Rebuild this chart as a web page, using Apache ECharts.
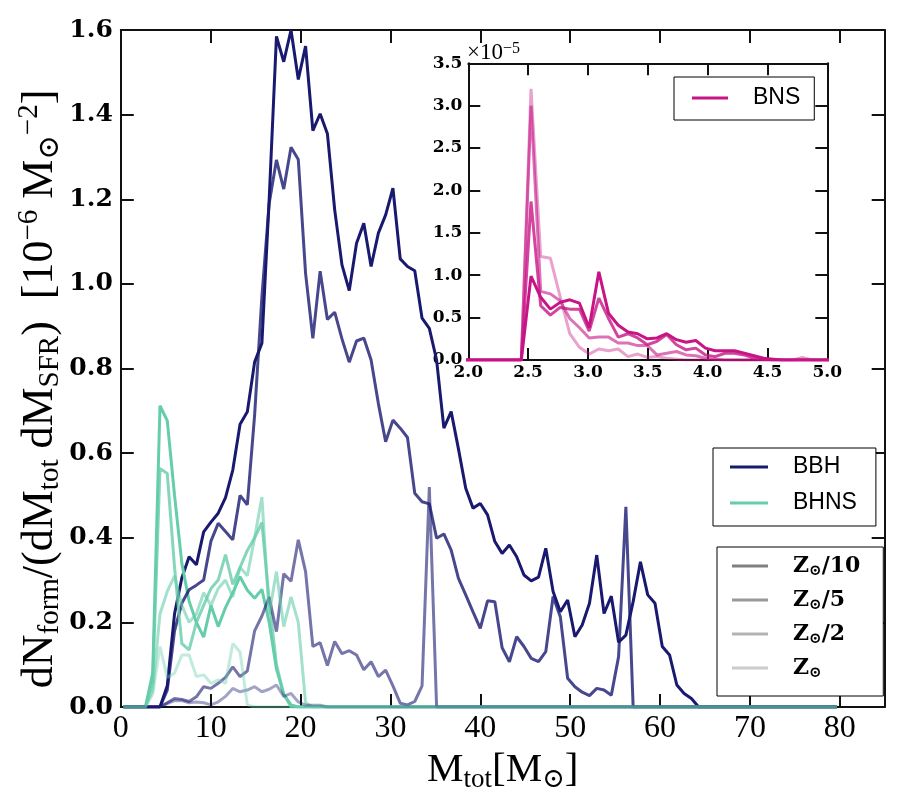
<!DOCTYPE html>
<html><head><meta charset="utf-8">
<script src="https://cdn.jsdelivr.net/npm/echarts@6/dist/echarts.min.js"></script>
<style>html,body{margin:0;padding:0;background:#fff}#c{width:900px;height:800px}</style>
</head><body><div id="c"></div>
<script>
// ---- main panel: total mass grid (M_sun) ----
const MASS = [
 0.31, 1.12, 1.93, 2.74, 3.55, 4.36, 5.17, 5.98, 6.79, 7.60,
 8.41, 9.22, 10.03, 10.84, 11.65, 12.46, 13.27, 14.08, 14.89, 15.70,
 16.51, 17.32, 18.13, 18.94, 19.75, 20.56, 21.37, 22.18, 22.99, 23.80,
 24.61, 25.42, 26.23, 27.04, 27.85, 28.66, 29.47, 30.28, 31.09, 31.90,
 32.71, 33.52, 34.33, 35.14, 35.95, 36.76, 37.57, 38.38, 39.19, 40.00,
 40.81, 41.62, 42.43, 43.24, 44.05, 44.86, 45.67, 46.48, 47.29, 48.10,
 48.91, 49.72, 50.53, 51.34, 52.15, 52.96, 53.77, 54.58, 55.39, 56.20,
 57.01, 57.82, 58.63, 59.44, 60.25, 61.06, 61.87, 62.68, 63.49, 64.30,
 65.11, 65.92, 66.73, 67.54, 68.35, 69.16, 69.97, 70.78, 71.59, 72.40,
 73.21, 74.02, 74.83, 75.64, 76.45, 77.26, 78.07, 78.88, 79.69
];
// BBH (units of 1e-6 Msun^-2)
const BBH_Z10 = [
 0, 0, 0, 0, 0, 0, 0.05, 0.22, 0.305, 0.355,
 0.336, 0.414, 0.437, 0.458, 0.495, 0.56, 0.668, 0.698, 0.815, 0.86,
 1.2, 1.585, 1.525, 1.6, 1.483, 1.562, 1.362, 1.402, 1.355, 1.175,
 1.045, 0.984, 1.096, 1.143, 1.041, 1.12, 1.163, 1.226, 1.059, 1.041,
 1.031, 0.919, 0.895, 0.82, 0.659, 0.698, 0.61, 0.517, 0.47, 0.481,
 0.454, 0.391, 0.363, 0.383, 0.355, 0.312, 0.298, 0.307, 0.375, 0.273,
 0.225, 0.253, 0.166, 0.194, 0.245, 0.359, 0.221, 0.262, 0.153, 0.17,
 0.249, 0.343, 0.265, 0.245, 0.143, 0.123, 0.052, 0.032, 0.02, 0,
 0, 0, 0, 0, 0, 0, 0, 0, 0, 0,
 0, 0, 0, 0, 0, 0, 0, 0, 0
];
const BBH_Z5 = [
 0, 0, 0, 0, 0, 0, 0.04, 0.18, 0.245, 0.277,
 0.288, 0.3, 0.392, 0.434, 0.415, 0.395, 0.5, 0.478, 0.69, 0.97,
 1.19, 1.293, 1.224, 1.323, 1.294, 1.025, 0.871, 1.03, 0.916, 0.933,
 0.87, 0.815, 0.865, 0.872, 0.82, 0.717, 0.627, 0.678, 0.659, 0.637,
 0.505, 0.485, 0.48, 0.399, 0.409, 0.371, 0.304, 0.265, 0.225, 0.186,
 0.251, 0.249, 0.14, 0.107, 0.166, 0.143, 0.115, 0.107, 0.131, 0.261,
 0.213, 0.068, 0.048, 0.035, 0.027, 0.044, 0.04, 0.028, 0.119, 0.473,
 0, 0, 0, 0, 0, 0, 0, 0, 0, 0,
 0, 0, 0, 0, 0, 0, 0, 0, 0, 0,
 0, 0, 0, 0, 0, 0, 0, 0, 0
];
const BBH_Z2 = [
 0, 0, 0, 0, 0, 0, 0.01, 0.02, 0.018, 0.013,
 0.024, 0.048, 0.044, 0.056, 0.07, 0.095, 0.072, 0.085, 0.18, 0.215,
 0.26, 0.178, 0.315, 0.297, 0.395, 0.32, 0.143, 0.152, 0.098, 0.155,
 0.126, 0.133, 0.123, 0.088, 0.107, 0.072, 0.087, 0.05, 0.009, 0.005,
 0.013, 0.05, 0.52, 0, 0, 0, 0, 0, 0, 0,
 0, 0, 0, 0, 0, 0, 0, 0, 0, 0,
 0, 0, 0, 0, 0, 0, 0, 0, 0, 0,
 0, 0, 0, 0, 0, 0, 0, 0, 0, 0,
 0, 0, 0, 0, 0, 0, 0, 0, 0, 0,
 0, 0, 0, 0, 0, 0, 0, 0, 0
];
const BBH_Z1 = [
 0, 0, 0, 0, 0, 0, 0.008, 0.015, 0.015, 0.01,
 0.012, 0.01, 0.005, 0.012, 0.025, 0.044, 0.036, 0.04, 0.048, 0.036,
 0.042, 0.052, 0.025, 0.032, 0.012, 0.004, 0.004, 0.004, 0, 0,
 0, 0, 0, 0, 0, 0, 0, 0, 0, 0,
 0, 0, 0, 0, 0, 0, 0, 0, 0, 0,
 0, 0, 0, 0, 0, 0, 0, 0, 0, 0,
 0, 0, 0, 0, 0, 0, 0, 0, 0, 0,
 0, 0, 0, 0, 0, 0, 0, 0, 0, 0,
 0, 0, 0, 0, 0, 0, 0, 0, 0, 0,
 0, 0, 0, 0, 0, 0, 0, 0, 0
];
// BHNS
const BHNS_Z10 = [
 0, 0, 0, 0, 0.08, 0.712, 0.677, 0.5, 0.34, 0.25,
 0.2, 0.165, 0.24, 0.19, 0.235, 0.27, 0.308, 0.276, 0.257, 0.278,
 0.2, 0.09, 0.03, 0.005, 0, 0, 0, 0, 0, 0,
 0, 0, 0, 0, 0, 0, 0, 0, 0, 0,
 0, 0, 0, 0, 0, 0, 0, 0, 0, 0,
 0, 0, 0, 0, 0, 0, 0, 0, 0, 0,
 0, 0, 0, 0, 0, 0, 0, 0, 0, 0,
 0, 0, 0, 0, 0, 0, 0, 0, 0, 0,
 0, 0, 0, 0, 0, 0, 0, 0, 0, 0,
 0, 0, 0, 0, 0, 0, 0, 0, 0
];
const BHNS_Z5 = [
 0, 0, 0, 0, 0.06, 0.564, 0.552, 0.33, 0.15, 0.135,
 0.2, 0.24, 0.28, 0.3, 0.36, 0.29, 0.33, 0.37, 0.4, 0.436,
 0.25, 0.1, 0.03, 0, 0, 0, 0, 0, 0, 0,
 0, 0, 0, 0, 0, 0, 0, 0, 0, 0,
 0, 0, 0, 0, 0, 0, 0, 0, 0, 0,
 0, 0, 0, 0, 0, 0, 0, 0, 0, 0,
 0, 0, 0, 0, 0, 0, 0, 0, 0, 0,
 0, 0, 0, 0, 0, 0, 0, 0, 0, 0,
 0, 0, 0, 0, 0, 0, 0, 0, 0, 0,
 0, 0, 0, 0, 0, 0, 0, 0, 0
];
const BHNS_Z2 = [
 0, 0, 0, 0, 0.04, 0.22, 0.273, 0.31, 0.24, 0.2,
 0.22, 0.27, 0.24, 0.28, 0.3, 0.26, 0.33, 0.31, 0.4, 0.496,
 0.22, 0.32, 0.19, 0.26, 0.2, 0.01, 0, 0, 0, 0,
 0, 0, 0, 0, 0, 0, 0, 0, 0, 0,
 0, 0, 0, 0, 0, 0, 0, 0, 0, 0,
 0, 0, 0, 0, 0, 0, 0, 0, 0, 0,
 0, 0, 0, 0, 0, 0, 0, 0, 0, 0,
 0, 0, 0, 0, 0, 0, 0, 0, 0, 0,
 0, 0, 0, 0, 0, 0, 0, 0, 0, 0,
 0, 0, 0, 0, 0, 0, 0, 0, 0
];
const BHNS_Z1 = [
 0, 0, 0, 0, 0.03, 0.143, 0.07, 0.08, 0.123, 0.123,
 0.072, 0.076, 0.056, 0.064, 0.056, 0.15, 0.13, 0.005, 0, 0,
 0, 0, 0, 0, 0, 0, 0, 0, 0, 0,
 0, 0, 0, 0, 0, 0, 0, 0, 0, 0,
 0, 0, 0, 0, 0, 0, 0, 0, 0, 0,
 0, 0, 0, 0, 0, 0, 0, 0, 0, 0,
 0, 0, 0, 0, 0, 0, 0, 0, 0, 0,
 0, 0, 0, 0, 0, 0, 0, 0, 0, 0,
 0, 0, 0, 0, 0, 0, 0, 0, 0, 0,
 0, 0, 0, 0, 0, 0, 0, 0, 0
];
// ---- inset: BNS (units of 1e-5) ----
const BNS_MASS = [
 1.957, 2.038, 2.119, 2.200, 2.281, 2.362, 2.443, 2.524, 2.605, 2.686,
 2.767, 2.848, 2.929, 3.010, 3.091, 3.172, 3.253, 3.334, 3.415, 3.496,
 3.577, 3.658, 3.739, 3.820, 3.901, 3.982, 4.063, 4.144, 4.225, 4.306,
 4.387, 4.468, 4.549, 4.630, 4.711, 4.792, 4.873, 4.954, 5.035
];
const BNS_Z10 = [
 0, 0, 0, 0, 0, 0, 0, 0.99, 0.74, 0.6,
 0.68, 0.71, 0.67, 0.38, 1.04, 0.55, 0.41, 0.33, 0.31, 0.25,
 0.26, 0.31, 0.24, 0.21, 0.23, 0.14, 0.11, 0.11, 0.11, 0.08,
 0.05, 0.02, 0.01, 0, 0, 0, 0, 0, 0
];
const BNS_Z5 = [
 0, 0, 0, 0, 0, 0, 0, 1.87, 0.64, 0.53,
 0.62, 0.6, 0.6, 0.34, 0.73, 0.49, 0.27, 0.31, 0.26, 0.18,
 0.22, 0.3, 0.18, 0.12, 0.14, 0.06, 0.04, 0.08, 0.08, 0.06,
 0.02, 0.01, 0, 0, 0, 0, 0, 0, 0
];
const BNS_Z2 = [
 0, 0, 0, 0, 0, 0, 0, 3.0, 0.81, 0.78,
 0.7, 0.49, 0.38, 0.26, 0.27, 0.27, 0.2, 0.2, 0.17, 0.17,
 0.06, 0.08, 0.1, 0.06, 0.05, 0.02, 0.01, 0, 0, 0,
 0, 0, 0, 0, 0, 0, 0, 0, 0
];
const BNS_Z1 = [
 0, 0, 0, 0, 0, 0, 0, 3.2, 1.22, 1.2,
 0.75, 0.31, 0.15, 0.07, 0.13, 0.11, 0.13, 0.04, 0.07, 0.03,
 0.04, 0.02, 0.01, 0, 0, 0, 0, 0, 0, 0,
 0, 0, 0, 0, 0, 0.03, 0, 0, 0
];
const METAL_SUFFIX = ['/10', '/5', '/2', ''];
const METAL_NAMES = METAL_SUFFIX.map(s => 'Z⊙' + s);
const METAL_GRAY = ['#808080', '#999999', '#b3b3b3', '#cccccc'];
const ALPHA = [1, 0.8, 0.6, 0.4];

const NAVY = [25, 25, 112], AQUA = [102, 205, 170], PINK = [199, 21, 133];
const rgba = (c, a) => `rgba(${c[0]},${c[1]},${c[2]},${a})`;

function mk(name, xs, ys, col, a, ai) {
  const c = rgba(col, a);
  return {
    type: 'line', name, xAxisIndex: ai, yAxisIndex: ai,
    data: xs.map((x, i) => [x, ys[i]]),
    showSymbol: false, symbol: 'none', silent: true,
    color: c, itemStyle: { color: c },
    lineStyle: { width: 3, color: c }
  };
}

const BBH = [BBH_Z10, BBH_Z5, BBH_Z2, BBH_Z1];
const BHNS = [BHNS_Z10, BHNS_Z5, BHNS_Z2, BHNS_Z1];
const BNS = [BNS_Z10, BNS_Z5, BNS_Z2, BNS_Z1];

const series = [];
for (let m = 0; m < 4; m++) {
  series.push(mk(m === 0 ? 'BBH' : 'BBH ' + METAL_NAMES[m], MASS, BBH[m], NAVY, ALPHA[m], 0));
  series.push(mk(m === 0 ? 'BHNS' : 'BHNS ' + METAL_NAMES[m], MASS, BHNS[m], AQUA, ALPHA[m], 0));
}
for (let m = 0; m < 4; m++) {
  series.push(mk(m === 0 ? 'BNS' : 'BNS ' + METAL_NAMES[m], BNS_MASS, BNS[m], PINK, ALPHA[m], 2));
}
for (let m = 0; m < 4; m++) {
  series.push({ type: 'line', name: METAL_NAMES[m], data: [], xAxisIndex: 0, yAxisIndex: 0,
    showSymbol: false, color: METAL_GRAY[m], lineStyle: { color: METAL_GRAY[m], width: 3 } });
}

const AX = '#111';
const serif = 'Liberation Serif, DejaVu Serif, serif';
const bold = { fontFamily: 'DejaVu Serif', fontWeight: 'bold', color: '#000' };
function axisBase(extra) {
  return Object.assign({
    type: 'value',
    axisLine: { show: true, onZero: false, lineStyle: { color: AX, width: 2 } },
    axisTick: { show: true, inside: true, length: 13, lineStyle: { color: AX, width: 2 } },
    splitLine: { show: false }
  }, extra);
}
const one = v => v.toFixed(1);
function titleRich(big, small) {
  return {
    m: { fontFamily: serif, fontSize: big, lineHeight: big + 6, fill: '#000', color: '#000' },
    s: { fontFamily: serif, fontSize: small, lineHeight: 22, verticalAlign: 'bottom', fill: '#000', color: '#000' },
    p: { fontFamily: serif, fontSize: small, lineHeight: 22, verticalAlign: 'top', fill: '#000', color: '#000' }
  };
}

const option = {
  animation: false,
  backgroundColor: '#fff',
  grid: [
    { left: 120.8, top: 30, width: 763.9, height: 677 },
    { left: 468.3, top: 63.3, width: 359, height: 296.7 }
  ],
  xAxis: [
    axisBase({ gridIndex: 0, min: 0, max: 85, interval: 10, position: 'bottom',
      axisLabel: { fontFamily: serif, fontSize: 32, color: '#000', margin: 6, showMaxLabel: false },
      name: '{m|M}{s|tot}{m|[M}{s|⊙}{m|]}', nameLocation: 'middle', nameGap: 27,
      nameTextStyle: { fontFamily: serif, fontSize: 40, rich: titleRich(41, 27) } }),
    axisBase({ gridIndex: 0, min: 0, max: 85, interval: 10, position: 'top', axisLabel: { show: false } }),
    axisBase({ gridIndex: 1, min: 2, max: 5, interval: 0.5, position: 'bottom',
      axisTick: { show: true, inside: true, length: 12, lineStyle: { color: AX, width: 2 } },
      axisLabel: Object.assign({ fontSize: 17, margin: 4, formatter: one }, bold) }),
    axisBase({ gridIndex: 1, min: 2, max: 5, interval: 0.5, position: 'top',
      axisTick: { show: true, inside: true, length: 12, lineStyle: { color: AX, width: 2 } },
      axisLabel: { show: false } })
  ],
  yAxis: [
    axisBase({ gridIndex: 0, min: 0, max: 1.6, interval: 0.2, position: 'left',
      axisLabel: Object.assign({ fontSize: 25, margin: 8, formatter: one }, bold) }),
    axisBase({ gridIndex: 0, min: 0, max: 1.6, interval: 0.2, position: 'right', axisLabel: { show: false } }),
    axisBase({ gridIndex: 1, min: 0, max: 3.5, interval: 0.5, position: 'left',
      axisTick: { show: true, inside: true, length: 12, lineStyle: { color: AX, width: 2 } },
      axisLabel: Object.assign({ fontSize: 17, margin: 6, formatter: one }, bold) }),
    axisBase({ gridIndex: 1, min: 0, max: 3.5, interval: 0.5, position: 'right',
      axisTick: { show: true, inside: true, length: 12, lineStyle: { color: AX, width: 2 } },
      axisLabel: { show: false } })
  ],
  graphic: [
    { type: 'text', x: 40, y: 389, rotation: Math.PI / 2, silent: true,
      style: { text: '{m|dN}{s|form}{m|/(dM}{s|tot}{m| dM}{s|SFR}{m|)  [10}{p|−6}{m| M}{s|⊙}{p|−2}{m|]}',
        align: 'center', verticalAlign: 'middle', rich: titleRich(44, 29) } },
    { type: 'text', x: 467, y: 65, silent: true,
      style: { text: '{t|×10}{p|−5}', align: 'left', verticalAlign: 'bottom', rich: {
        t: { fontFamily: serif, fontSize: 23, lineHeight: 24, fill: '#000' },
        p: { fontFamily: serif, fontSize: 16, lineHeight: 14, verticalAlign: 'top', fill: '#000' } } } }
  ],
  legend: [
    { data: ['BBH', 'BHNS'], orient: 'vertical', left: 713, top: 448, selectedMode: false,
      icon: 'rect', itemWidth: 38, itemHeight: 3, itemGap: 10,
      padding: [6, 19, 10, 17], borderColor: '#000', borderWidth: 1, backgroundColor: '#fff', borderRadius: 0,
      textStyle: { fontFamily: 'Liberation Sans, Arial, sans-serif', fontSize: 23, lineHeight: 26, color: '#000', padding: [0, 0, 0, 20] } },
    { data: METAL_NAMES, orient: 'vertical', left: 717, top: 547, selectedMode: false,
      icon: 'rect', itemWidth: 36, itemHeight: 3, itemGap: 10,
      padding: [8, 23, 15, 15], borderColor: '#000', borderWidth: 1, backgroundColor: '#fff', borderRadius: 0,
      formatter: n => { const s = METAL_SUFFIX[METAL_NAMES.indexOf(n)]; return '{z|Z}{s|⊙}' + (s ? '{z|' + s + '}' : ''); },
      textStyle: { padding: [0, 0, 0, 20], rich: {
        z: { fontFamily: 'DejaVu Serif', fontWeight: 'bold', fontSize: 22, lineHeight: 26, color: '#000' },
        s: { fontFamily: 'DejaVu Serif', fontWeight: 'bold', fontSize: 15, lineHeight: 12, verticalAlign: 'bottom', color: '#000' } } } },
    { data: ['BNS'], orient: 'vertical', left: 674, top: 77, selectedMode: false,
      icon: 'rect', itemWidth: 36, itemHeight: 3,
      padding: [8, 14, 9, 18], borderColor: '#000', borderWidth: 1, backgroundColor: '#fff', borderRadius: 0,
      textStyle: { fontFamily: 'Liberation Sans, Arial, sans-serif', fontSize: 23, lineHeight: 26, color: '#000', padding: [0, 0, 0, 20] } }
  ],
  series
};
const chart = echarts.init(document.getElementById('c'), null, { renderer: 'canvas' });
chart.setOption(option);
</script>
</body></html>
